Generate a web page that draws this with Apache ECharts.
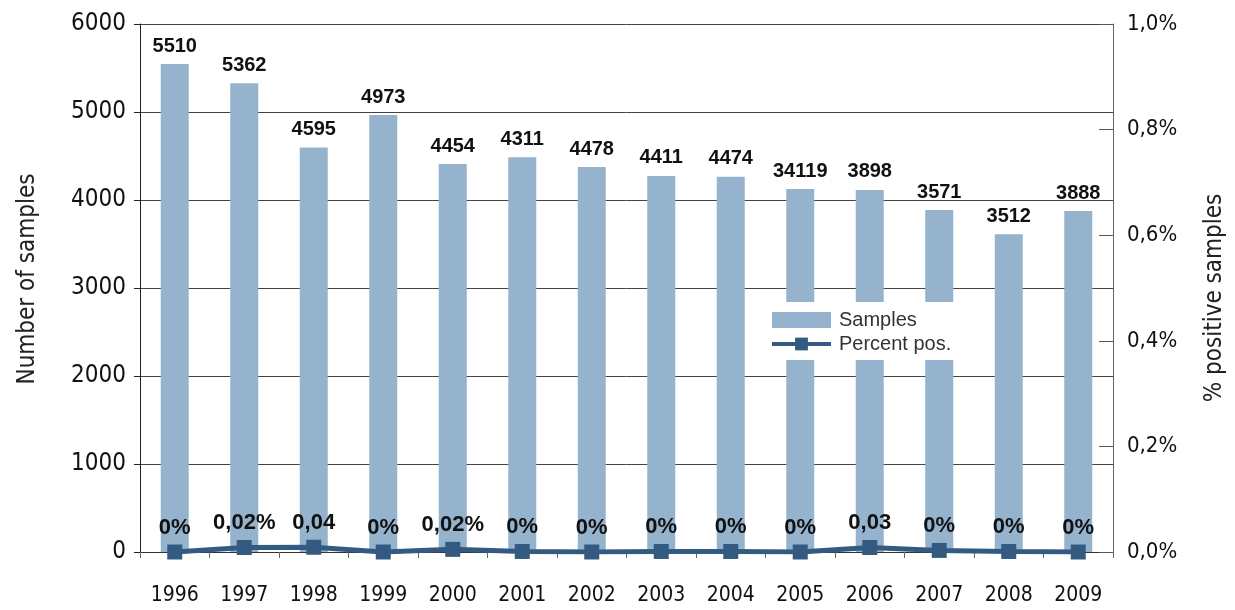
<!DOCTYPE html>
<html>
<head>
<meta charset="utf-8">
<script src="https://cdn.jsdelivr.net/npm/echarts@6/dist/echarts.min.js"></script>
<style>
html,body{margin:0;padding:0;background:#fff;}
#chart{width:1235px;height:610px;}
</style>
</head>
<body>
<div id="chart"></div>
<script>
// ---- data ----
const years = ['1996','1997','1998','1999','2000','2001','2002','2003','2004','2005','2006','2007','2008','2009'];
const sampleValues = [5545, 5326, 4598, 4966, 4409, 4485, 4375, 4273, 4265, 4125, 4114, 3886, 3610, 3875];
const sampleLabels = ['5510','5362','4595','4973','4454','4311','4478','4411','4474','34119','3898','3571','3512','3888'];
const percentValues = [0, 0.0085, 0.009, 0, 0.005, 0.001, 0, 0.001, 0.001, 0, 0.0085, 0.003, 0.001, 0];
const percentLabels = ['0%','0,02%','0,04','0%','0,02%','0%','0%','0%','0%','0%','0,03','0%','0%','0%'];
const leftTickLabels = ['0','1000','2000','3000','4000','5000','6000'];
const rightTickLabels = ['0,0%','0,2%','0,4%','0,6%','0,8%','1,0%'];

const narrow = '"Liberation Sans Narrow", "DejaVu Sans Condensed", "Roboto Condensed", "Liberation Sans", sans-serif';
const bold = '"Liberation Sans", Arial, sans-serif';

const chart = echarts.init(document.getElementById('chart'));
chart.setOption({
  animation: false,
  backgroundColor: '#fff',
  grid: { left: 140, right: 115, top: 24, bottom: 58, containLabel: false },
  legend: {
    orient: 'vertical',
    left: 760, top: 302,
    padding: [8, 40, 6, 10],
    backgroundColor: '#fff',
    itemWidth: 59, itemHeight: 16, itemGap: 4,
    textStyle: { fontSize: 20, color: '#333', fontFamily: bold, padding: [0,0,0,3] },
    data: [
      { name: 'Samples', icon: 'rect' },
      { name: 'Percent pos.', lineStyle: { width: 4 } }
    ]
  },
  xAxis: {
    type: 'category',
    data: years,
    boundaryGap: true,
    axisLine: { lineStyle: { color: '#333', width: 1 } },
    axisTick: { show: true, length: 6, interval: 0, lineStyle: { color: '#666' } },
    axisLabel: { fontSize: 21, color: '#111', fontFamily: narrow, margin: 33, interval: 0 }
  },
  yAxis: [
    {
      type: 'value', min: 0, max: 6000, interval: 1000,
      name: 'Number of samples', nameLocation: 'middle', nameRotate: 90, nameGap: 100,
      nameTextStyle: { fontSize: 24, color: '#222', fontFamily: narrow, padding: [0, 0, 0, 18] },
      axisLine: { show: true, lineStyle: { color: '#222' } },
      axisTick: { show: true, length: 6, lineStyle: { color: '#222' } },
      splitLine: { show: true, lineStyle: { color: '#444', width: 1 } },
      axisLabel: { fontSize: 24, color: '#111', fontFamily: narrow, margin: 14,
        formatter: (v) => leftTickLabels[Math.round(v / 1000)] }
    },
    {
      type: 'value', min: 0, max: 1, interval: 0.2, position: 'right',
      name: '% positive samples', nameLocation: 'middle', nameRotate: 90, nameGap: 90,
      nameTextStyle: { fontSize: 24, color: '#222', fontFamily: narrow, padding: [0, 20, 0, 0] },
      axisLine: { show: true, lineStyle: { color: '#666' } },
      axisTick: { show: true, inside: true, length: 14, lineStyle: { color: '#555' } },
      splitLine: { show: false },
      axisLabel: { fontSize: 22, color: '#111', fontFamily: narrow, margin: 14,
        formatter: (v) => rightTickLabels[Math.round(v / 0.2)] }
    }
  ],
  series: [
    {
      name: 'Samples', type: 'bar', yAxisIndex: 0,
      data: sampleValues,
      barWidth: 28,
      itemStyle: { color: '#95B3CD' },
      label: { show: true, position: 'top', distance: 8, fontSize: 20, fontWeight: 'bold',
        color: '#111', fontFamily: bold,
        formatter: (p) => sampleLabels[p.dataIndex] }
    },
    {
      name: 'Percent pos.', type: 'line', yAxisIndex: 1,
      data: percentValues,
      symbol: 'rect', symbolSize: 15,
      lineStyle: { color: '#335B81', width: 5 },
      itemStyle: { color: '#335B81' },
      z: 5,
      label: { show: true, position: 'top', distance: 6, fontSize: 22, fontWeight: 'bold',
        color: '#111', fontFamily: bold,
        formatter: (p) => percentLabels[p.dataIndex] }
    }
  ]
});
</script>
</body>
</html>
